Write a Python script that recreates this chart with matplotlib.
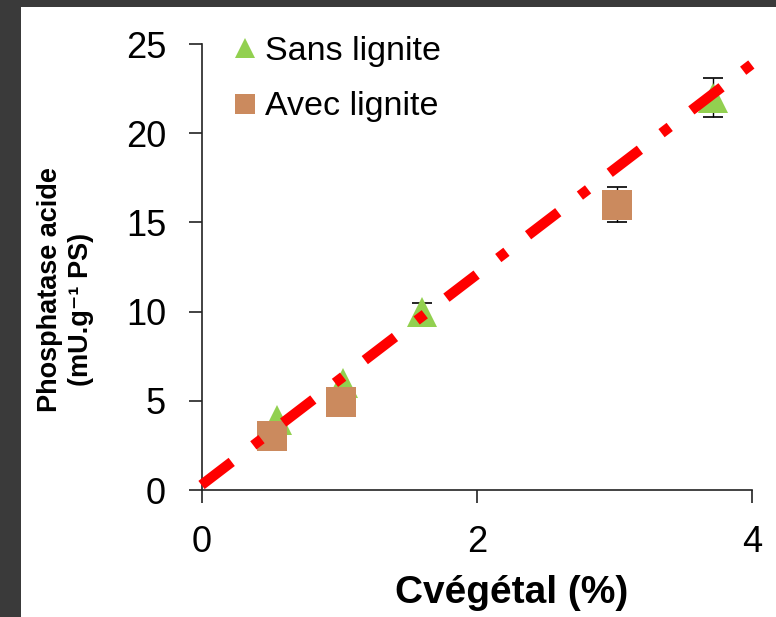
import matplotlib
matplotlib.use("Agg")
import matplotlib.pyplot as plt
from matplotlib.patches import Rectangle
import numpy as np

# Measurements: plant carbon (%) vs acid phosphatase activity (mU/g DW)
cveg_sans = [0.545, 1.03, 1.60, 3.72]
phos_sans = [3.95, 6.0, 10.0, 22.0]
err_sans = [0.0, 0.0, 0.5, 1.1]

cveg_avec = [0.51, 1.01, 3.02]
phos_avec = [3.0, 4.95, 16.0]
err_avec = [0.0, 0.0, 1.0]

# Linear trend
trend_slope = 5.9
trend_intercept = 0.28
trend_x = [0.0, 4.0]

x_ticks = [0, 2, 4]
y_ticks = [0, 5, 10, 15, 20, 25]

labels = ["Sans lignite", "Avec lignite"]

GREEN = "#92D050"
BROWN = "#CB8A5E"
RED = "#FF0000"

plt.rcParams["font.family"] = ["Liberation Sans", "DejaVu Sans"]

W, H = 776, 617
fig = plt.figure(figsize=(W / 100, H / 100), dpi=100, facecolor="#3a3a3a")
fig.patches.append(Rectangle((21 / W, 0), 1 - 21 / W, 1 - 7 / H,
                             transform=fig.transFigure, facecolor="white",
                             edgecolor="none", zorder=-1))

left, right, bottom, top = 201.5, 752, 490, 44
ax = fig.add_axes([left / W, (H - bottom) / H, (right - left) / W, (bottom - top) / H])
ax.set_facecolor("none")
ax.set_zorder(1)

# error bars beneath markers
def draw_err(xs, ys, es):
    xs, ys, es = np.asarray(xs), np.asarray(ys), np.asarray(es)
    m = es > 0
    ax.errorbar(xs[m], ys[m], yerr=es[m], fmt="none", ecolor="black",
                elinewidth=1.0, capsize=7, capthick=1.2, zorder=2)

draw_err(cveg_sans, phos_sans, err_sans)
draw_err(cveg_avec, phos_avec, err_avec)

ax.plot(cveg_sans, phos_sans, linestyle="none", marker="^", markersize=22,
        color=GREEN, markeredgewidth=0, zorder=3, label=labels[0])
ax.plot(cveg_avec, phos_avec, linestyle="none", marker="s", markersize=22,
        color=BROWN, markeredgewidth=0, zorder=4, label=labels[1])

tx = np.array(trend_x)
ax.plot(tx, trend_slope * tx + trend_intercept, color=RED, linewidth=7.4,
        dashes=(3.7, 2.65, 1.0, 2.65), dash_capstyle="butt", zorder=5,
        clip_on=False)

ax.set_xlim(0, 4)
ax.set_ylim(0, 25)
ax.set_xticks(x_ticks)
ax.set_yticks(y_ticks)
for s in ("top", "right"):
    ax.spines[s].set_visible(False)
for s in ("left", "bottom"):
    ax.spines[s].set_linewidth(1.2)
    ax.spines[s].set_color("#222222")
ax.tick_params(direction="out", length=9.5, width=1.2, color="#222222",
               labelsize=26)
ax.tick_params(axis="y", pad=16)
ax.tick_params(axis="x", pad=16)

leg = ax.legend(loc="upper left", bbox_to_anchor=(233 / W, 1 - 36 / H),
                bbox_transform=fig.transFigure, frameon=False, fontsize=24.5,
                markerscale=0.68, handlelength=0.7, handletextpad=0.25,
                labelspacing=0.72, borderpad=0, borderaxespad=0)

fig.text(512 / W, (H - 603) / H, "Cvégétal (%)", ha="center", va="baseline",
         fontsize=28, fontweight="bold")
fig.text(50 / W, 1 - 290 / H, "Phosphatase acide",
         ha="center", va="center", rotation=90, fontsize=19.5,
         fontweight="bold")
fig.text(81 / W, 1 - 309 / H, "(mU.g\u207b\u00b9 PS)",
         ha="center", va="center", rotation=90, fontsize=19.5,
         fontweight="bold")

fig.savefig("out.png", dpi=100, facecolor=fig.get_facecolor())
